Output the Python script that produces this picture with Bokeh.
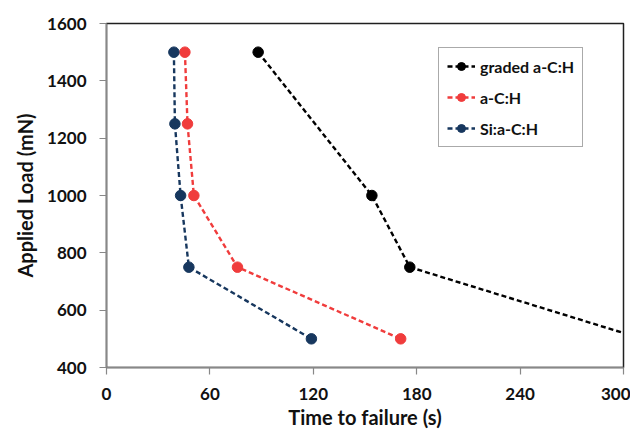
from bokeh.plotting import figure
from bokeh.models import Range1d, FixedTicker, ColumnDataSource
from bokeh.embed import file_html
from bokeh.resources import INLINE

# Data
load = [1500, 1250, 1000, 750, 500]
graded_time = [88, 154, 176, 311]
graded_load = [1500, 1000, 750, 500]
ach_time = [45.5, 47, 50.7, 76, 170.7]
siach_time = [39.1, 39.7, 43, 47.8, 118.9]
x_ticks = [0, 60, 120, 180, 240, 300]
y_ticks = [400, 600, 800, 1000, 1200, 1400, 1600]

FONT = "Lato"

p = figure(width=630, height=432, output_backend="svg", toolbar_location=None,
           x_range=Range1d(0, 300), y_range=Range1d(400, 1600))
p.min_border_left = 106
p.min_border_right = 7
p.min_border_top = 23
p.min_border_bottom = 65
p.xgrid.visible = False
p.ygrid.visible = False
p.outline_line_color = "#202020"
p.outline_line_width = 1.5

series = [
    ("graded a-C:H", graded_time, graded_load, "#000000"),
    ("a-C:H", ach_time, load, "#f03c3c"),
    ("Si:a-C:H", siach_time, load, "#17375e"),
]
for name, xs, ys, col in series:
    src = ColumnDataSource(dict(x=xs, y=ys))
    p.line("x", "y", source=src, line_color=col, line_width=2.4, line_dash="5 3",
           legend_label=name)
    p.scatter("x", "y", source=src, size=10.5, fill_color=col, line_color=col,
              legend_label=name)

for ax in (p.xaxis, p.yaxis):
    ax.axis_line_color = "#888888"
    ax.axis_line_width = 1.5
    ax.major_tick_line_color = "#888888"
    ax.major_tick_line_width = 1.2
    ax.major_tick_out = 7
    ax.major_tick_in = 0
    ax.minor_tick_line_color = None
    ax.major_label_text_font = FONT
    ax.major_label_text_font_style = "bold"
    ax.major_label_text_font_size = "17px"
    ax.major_label_text_color = "#111111"
    ax.axis_label_text_font = FONT
    ax.axis_label_text_font_style = "bold"
    ax.axis_label_text_font_size = "20px"
    ax.axis_label_text_color = "#111111"

p.xaxis.ticker = FixedTicker(ticks=x_ticks)
p.yaxis.ticker = FixedTicker(ticks=y_ticks)
p.xaxis.axis_label = "Time to failure (s)"
p.yaxis.axis_label = "Applied Load (mN)"
p.xaxis.major_label_standoff = 13
p.xaxis.axis_label_standoff = 2
p.yaxis.major_label_standoff = 13
p.yaxis.axis_label_standoff = 7

lg = p.legend[0]
lg.location = (332, 220)
lg.border_line_color = "#555555"
lg.border_line_width = 1.5
lg.background_fill_color = "white"
lg.label_text_font = FONT
lg.label_text_font_style = "bold"
lg.label_text_font_size = "16px"
lg.label_text_color = "#111111"
lg.glyph_width = 28
lg.glyph_height = 20
lg.spacing = 11
lg.padding = 8
lg.margin = 0
lg.label_standoff = 5

open("out.html", "w").write(file_html(p, INLINE))
